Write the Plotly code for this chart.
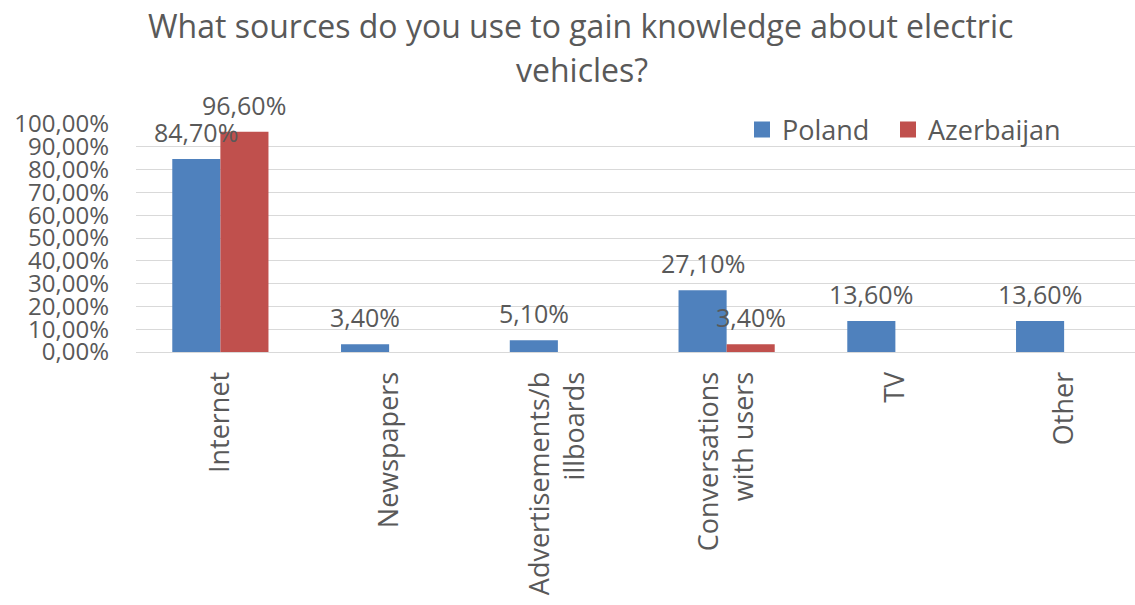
import plotly.graph_objects as go

categories = ["Internet", "Newspapers", "Advertisements/b<br>illboards",
              "Conversations<br>with users", "TV", "Other"]
poland = [84.7, 3.4, 5.1, 27.1, 13.6, 13.6]
azerbaijan = [96.6, 0, 0, 3.4, 0, 0]
series_names = ["Poland", "Azerbaijan"]
colors = ["#4F81BD", "#C0504D"]

FONT = "Open Sans"
TXT = "#595959"

L, R, T, B = 136, 0, 124, 253
W, H = 1135, 605
pw, ph = W - L - R, H - T - B

fig = go.Figure()
for name, vals, col in zip(series_names, [poland, azerbaijan], colors):
    fig.add_trace(go.Bar(x=categories, y=vals, name=name, marker_color=col,
                         marker_line_width=0, showlegend=False, legendgroup=name))
# legend entries with larger square swatches, one legend box per series
for name, col, lg in zip(series_names, colors, ["legend", "legend2"]):
    fig.add_trace(go.Scatter(x=[None], y=[None], mode="markers", name=name,
                             legendgroup=name, legend=lg,
                             marker=dict(symbol="square", size=16, color=col)))

def fmt(v):
    return f"{v:.2f}".replace(".", ",") + "%"

annotations = []
for shift, vals in zip([-24, 24], [poland, azerbaijan]):
    for c, v in zip(categories, vals):
        if v > 0:
            annotations.append(dict(x=c, y=v, xref="x", yref="y", text=fmt(v),
                                    showarrow=False, xshift=shift, yshift=27,
                                    yanchor="middle",
                                    font=dict(family=FONT, size=25, color=TXT)))

title_lines = ["What sources do you use to gain knowledge about electric", "vehicles?"]
title_px = [(580, 25), (582, 70)]
for txt, (px, py) in zip(title_lines, title_px):
    annotations.append(dict(text=txt, x=(px - L) / pw, y=(H - B - py) / ph,
                            xref="paper", yref="paper", showarrow=False,
                            xanchor="center", yanchor="middle",
                            font=dict(family=FONT, size=32, color=TXT)))

def legend_box(px):
    return dict(orientation="h", x=(px - L) / pw, y=(H - B - 130) / ph,
                xanchor="left", yanchor="middle",
                font=dict(family=FONT, size=27, color=TXT),
                bgcolor="rgba(0,0,0,0)")

fig.update_layout(
    width=W, height=H,
    margin=dict(l=L, r=R, t=T, b=B, pad=0),
    paper_bgcolor="white", plot_bgcolor="white",
    barmode="group", bargap=0.43, bargroupgap=0,
    separators=", ",
    font=dict(family=FONT, color=TXT),
    annotations=annotations,
    legend=legend_box(742),
    legend2=legend_box(888),
    showlegend=True,
)
fig.update_yaxes(range=[0, 100], dtick=10, tick0=0, tickformat=".2f", ticksuffix="%",
                 showgrid=True, gridcolor="#D9D9D9", gridwidth=1, zeroline=False,
                 tickfont=dict(family=FONT, size=24, color=TXT),
                 ticks="", ticklabelstandoff=26, showline=False)
fig.update_xaxes(range=[-0.5, 5.42], tickangle=-90,
                 tickfont=dict(family=FONT, size=27, color=TXT),
                 ticks="", ticklabelstandoff=8, showline=True,
                 linecolor="#D9D9D9", linewidth=1, showgrid=False)

fig.write_html("out.html")
